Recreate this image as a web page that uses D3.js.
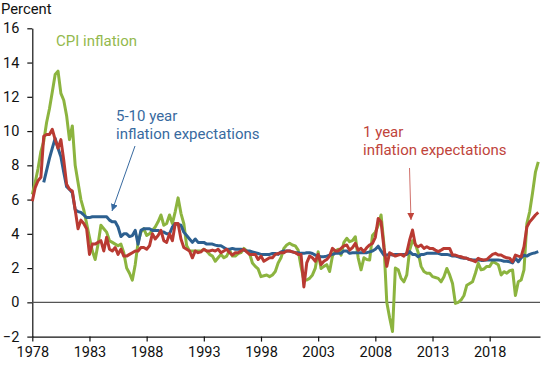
<!DOCTYPE html>
<html><head><meta charset="utf-8">
<script src="https://cdn.jsdelivr.net/npm/d3@7"></script>
<style>
html,body{margin:0;padding:0;background:#fff;}
svg text{font-family:Roboto,"Liberation Sans",sans-serif;}
</style></head>
<body><svg id="chart" width="550" height="365"></svg>
<script>
const startYear = 1978;
const yearTicks = [1978,1983,1988,1993,1998,2003,2008,2013,2018];
const valueTicks = [-2,0,2,4,6,8,10,12,14,16];

// Quarterly values, 1978Q1 onward
const cpiInflation = [
6.3,7.0,7.8,8.8, 9.4,10.5,11.3,12.3, 13.3,13.5,12.2,11.8, 10.9,9.5,10.3,8.0,
7.0,6.0,5.4,4.6, 3.8,3.0,2.5,3.4, 4.5,4.3,4.1,3.6, 3.5,3.4,3.3,3.4,
2.9,2.0,1.7,1.3, 2.2,3.5,4.1,4.3, 3.9,4.0,4.2,4.4, 4.7,5.1,4.5,4.6,
5.1,4.6,5.3,6.1, 5.2,4.6,3.3,3.0, 3.0,3.0,3.0,3.0, 3.1,3.0,2.8,2.7,
2.4,2.6,2.8,2.6, 2.7,3.05,2.7,2.7, 2.85,2.9,3.15,3.0, 2.85,2.3,2.1,1.95,
1.5,1.55,1.6,1.5, 1.6,1.8,2.3,2.6, 3.15,3.35,3.45,3.35, 3.3,3.05,2.1,1.3,
1.3,1.4,1.6,2.0, 2.96,1.98,2.1,2.2, 1.8,2.7,3.0,3.1, 2.76,3.5,3.74,3.54,
3.6,3.83,2.6,1.9, 2.6,2.5,2.47,3.9, 4.1,4.5,5.1,3.4, 0.0,-0.9,-1.7,2.0,
1.9,1.4,1.2,1.6, 3.05,3.6,3.4,2.9, 2.1,1.8,1.7,1.7, 1.5,1.45,1.4,1.2,
1.5,1.98,1.6,1.1, -0.06,0.0,0.14,0.4, 1.0,1.1,1.2,1.7, 2.28,1.9,1.95,2.1,
2.1,2.37,2.3,2.2, 1.6,1.79,1.7,1.85, 1.89,0.4,1.2,1.3, 1.9,4.6,5.3,6.4,
7.6,8.2];

const oneYearExp = [
5.9,6.7,7.1,7.3, 9.7,9.8,9.8,10.1, 9.5,9.0,9.5,8.3, 6.9,6.6,6.5,5.4,
4.3,4.8,4.6,4.3, 2.8,3.4,3.4,3.5, 3.6,3.0,3.8,3.1, 3.0,3.2,2.8,3.1,
2.7,2.7,2.8,2.9, 3.0,3.0,3.2,3.2, 3.1,3.3,4.0,3.7, 3.9,4.2,3.6,3.5,
4.0,3.6,4.6,4.6, 3.7,3.2,3.1,3.0, 2.6,3.0,2.9,2.95, 3.1,3.0,3.0,3.05,
3.0,3.1,2.9,3.0, 3.1,2.9,2.76,2.9, 2.9,3.0,3.1,2.95, 2.8,2.8,2.8,2.5,
2.7,2.4,2.5,2.6, 2.6,2.8,2.85,2.9, 2.9,3.0,3.0,2.95, 2.9,2.8,2.8,0.9,
2.3,2.7,2.6,2.4, 2.8,2.2,2.4,2.5, 2.7,3.15,3.0,3.0, 3.15,3.3,3.35,3.05,
3.2,3.44,3.05,3.15, 2.96,3.2,3.35,3.44, 3.8,4.9,4.7,3.2, 2.1,2.9,2.8,2.7,
2.76,2.8,2.7,2.9, 3.64,4.22,3.35,3.25, 3.35,3.15,3.25,3.15, 3.15,3.05,2.96,3.05,
3.15,3.15,3.15,2.76, 2.76,2.7,2.66,2.6, 2.57,2.5,2.45,2.37, 2.57,2.5,2.47,2.5,
2.66,2.8,2.86,2.76, 2.76,2.66,2.6,2.57, 2.37,2.76,2.7,2.66, 3.25,4.4,4.7,4.9,
5.1,5.25];

const fiveTenYearExp = [
null,null,null,null, 7.0,7.7,8.4,9.0, 9.57,9.0,8.5,7.6, 6.75,6.6,6.4,5.4,
5.3,5.25,5.1,4.95, 4.95,5.0,5.0,5.0, 5.0,5.0,5.0,4.8, 4.7,4.7,4.4,3.84,
4.0,4.0,3.84,3.9, 4.2,3.4,4.2,4.3, 4.3,4.3,4.2,4.2, 4.2,4.1,4.1,4.0,
4.0,4.4,4.6,4.55, 4.5,4.1,3.9,3.7, 3.5,3.7,3.5,3.5, 3.5,3.4,3.4,3.4,
3.34,3.3,3.3,3.2, 3.1,3.1,3.15,3.1, 3.1,3.1,3.05,3.0, 3.0,2.95,2.9,2.85,
2.8,2.8,2.8,2.8, 2.85,2.85,2.8,2.95, 3.0,3.0,3.0,2.95, 2.9,2.9,2.86,2.86,
2.9,2.9,2.85,2.76, 2.7,2.66,2.66,2.7, 2.76,2.8,2.86,2.86, 2.86,3.0,3.0,2.86,
2.9,2.9,2.9,2.9, 2.9,2.9,2.95,3.0, 3.1,3.28,3.0,2.76, 2.76,2.8,2.76,2.8,
2.8,2.8,2.8,2.8, 2.96,2.8,2.8,2.66, 2.8,2.8,2.86,2.86, 2.86,2.86,2.86,2.8,
2.8,2.8,2.76,2.7, 2.7,2.66,2.6,2.57, 2.57,2.5,2.47,2.47, 2.47,2.45,2.45,2.47,
2.47,2.47,2.47,2.47, 2.45,2.4,2.4,2.37, 2.3,2.57,2.37,2.6, 2.76,2.7,2.8,2.86,
2.9,2.96];

const colors = {cpi:"#8cb43f", one:"#b93a32", five:"#2d6090", axis:"#111", zero:"#555"};

const svg = d3.select("#chart");
const x = d3.scaleLinear().domain([1978, 2022.4]).range([32.3, 540]);
const y = d3.scaleLinear().domain([-2, 16]).range([336.6, 28.3]);

// axes
const xAxis = d3.axisBottom(x).tickValues(yearTicks).tickFormat(d3.format("d"))
  .tickSize(5).tickSizeOuter(0).tickPadding(5.5);
const gx = svg.append("g").attr("transform", `translate(0,${y(-2)})`).call(xAxis);
const yAxis = d3.axisLeft(y).tickValues(valueTicks).tickSize(5).tickSizeOuter(0).tickPadding(8);
const gy = svg.append("g").attr("transform", `translate(${x(1978)},0)`).call(yAxis);
[gx, gy].forEach(g => {
  g.select(".domain").attr("stroke", colors.axis).attr("stroke-width", 1.2);
  g.selectAll(".tick line").attr("stroke", colors.axis).attr("stroke-width", 1.2);
  g.selectAll(".tick text").attr("font-size", 14.5).attr("fill", "#111")
    .style("font-family", "Roboto, sans-serif");
});

// zero line
svg.append("line").attr("x1", x(1978)).attr("x2", x(2022.4))
  .attr("y1", y(0)).attr("y2", y(0)).attr("stroke", colors.zero).attr("stroke-width", 1.2);

svg.append("text").attr("x", 1).attr("y", 14).attr("font-size", 14.8).attr("fill", "#111").text("Percent");

const line = d3.line().defined(d => d != null)
  .x((d, i) => x(startYear + i / 4)).y(d => y(d));

function draw(data, color) {
  svg.append("path").datum(data).attr("d", line).attr("fill", "none")
    .attr("stroke", color).attr("stroke-width", 3).attr("stroke-linejoin", "round");
}
draw(cpiInflation, colors.cpi);
draw(fiveTenYearExp, colors.five);
draw(oneYearExp, colors.one);

// annotations
svg.append("text").attr("x", 56).attr("y", 45.5).attr("font-size", 15).attr("fill", "#93b94d").text("CPI inflation");
const bl = svg.append("text").attr("font-size", 15).attr("fill", "#386aa0");
bl.append("tspan").attr("x", 116).attr("y", 120.5).text("5-10 year");
bl.append("tspan").attr("x", 116).attr("y", 138.5).text("inflation expectations");
const rl = svg.append("text").attr("font-size", 15).attr("fill", "#c0443b");
rl.append("tspan").attr("x", 363).attr("y", 136.5).text("1 year");
rl.append("tspan").attr("x", 363).attr("y", 154.5).text("inflation expectations");

const defs = svg.append("defs");
function marker(id, color) {
  defs.append("marker").attr("id", id).attr("viewBox", "0 0 10 10").attr("refX", 10).attr("refY", 5)
    .attr("markerWidth", 7).attr("markerHeight", 7).attr("markerUnits", "userSpaceOnUse").attr("orient", "auto")
    .append("path").attr("d", "M0,0L10,5L0,10z").attr("fill", color);
}
marker("ab", "#386aa0");
marker("ar", "#c0443b");
svg.append("line").attr("x1", 135).attr("y1", 146).attr("x2", 112).attr("y2", 211)
  .attr("stroke", "#386aa0").attr("stroke-width", 1).attr("marker-end", "url(#ab)");
svg.append("line").attr("x1", 409.5).attr("y1", 168).attr("x2", 411).attr("y2", 220)
  .attr("stroke", "#d0706a").attr("stroke-width", 1).attr("marker-end", "url(#ar)");
</script></body></html>
